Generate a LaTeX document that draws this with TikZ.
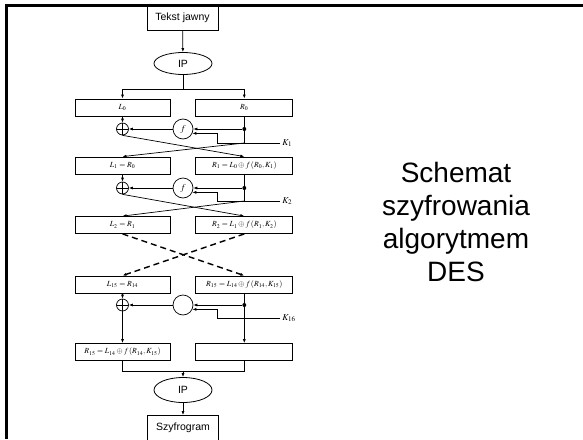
\documentclass[tikz,border=0pt]{standalone}
\usepackage{mathptmx}
\usepackage{fontspec}
\setsansfont{Liberation Sans}
\usepackage{tikz}
\usetikzlibrary{
  arrows.meta,
  positioning,
  calc,
  shapes.geometric}
\tikzset{
  blok/.style={draw, line width=0.8pt, minimum width=95pt, minimum height=17pt, inner sep=1pt, font=\fontsize{7.8}{9}\selectfont},
  blokR/.style={blok, minimum width=97pt},
  ramka/.style={draw, line width=0.8pt, minimum width=71pt, minimum height=25pt, font=\sffamily\fontsize{10.5}{12}\selectfont},
  perm/.style={draw, ellipse, line width=0.8pt, minimum width=58pt, minimum height=22pt, inner sep=0pt, font=\sffamily\fontsize{10.5}{12}\selectfont},
  xorop/.style={draw, circle, line width=0.7pt, minimum size=12pt, inner sep=0pt,
    path picture={\draw[line width=0.7pt] (path picture bounding box.north) -- (path picture bounding box.south)
                  (path picture bounding box.west) -- (path picture bounding box.east);}},
  fun/.style={draw, circle, line width=0.7pt, minimum size=20pt, inner sep=0pt, font=\fontsize{9}{10}\selectfont},
  klucz/.style={anchor=west, inner sep=2pt, font=\fontsize{9}{10}\selectfont},
  wezel/.style={circle, fill, inner sep=0pt, minimum size=4pt},
  zamiana/.style={dashed, line width=1.4pt, dash pattern=on 6pt off 4pt}
}

\begin{document}
\begin{tikzpicture}[x=1pt, y=-1pt, >={Latex[length=4pt,width=3pt]}, line width=0.7pt]
    \useasboundingbox (0,0) rectangle (583,439);

    \node[ramka] at (182.5,18) (jawny){Tekst jawny};
    \node[perm] at (183,63.5) (ip1){IP};

    % pierwsza runda
    \node[blok] at (122.5,107.5) (L0){$L_0$};
    \node[blokR, right = 25pt of L0](R0){$R_0$};
    \node[fun] at (183,129) (f1){$f$};
    \node[xorop] at (L0 |- f1) (x1){};
    \node[wezel] at (R0 |- f1) (d1){};
    \node[klucz] at (280,143) (k1){$K_1$};
    \coordinate (c1) at (R0.south |- k1.west);

    \node[blok] at (122.5,165.5) (L1){$L_1 = R_0$};
    \node[blokR, right = 25pt of L1](R1){$R_1 = L_0 \oplus f\,(R_0, K_1)$};

    % druga runda
    \node[fun] at (183,188) (f2){$f$};
    \node[xorop] at (L1 |- f2) (x2){};
    \node[wezel] at (R1 |- f2) (d2){};
    \node[klucz] at (280,201) (k2){$K_2$};
    \coordinate (c2) at (R1.south |- k2.west);

    \node[blok] at (122.5,225) (L2){$L_2 = R_1$};
    \node[blokR, right = 25pt of L2](R2){$R_2 = L_1 \oplus f\,(R_1, K_2)$};

    % runda szesnasta
    \node[blok] at (122.5,284.5) (L15){$L_{15} = R_{14}$};
    \node[blokR, right = 25pt of L15](R15){$R_{15} = L_{14} \oplus f\,(R_{14}, K_{15})$};
    \node[fun] at (183,305) (f3){};
    \node[xorop] at (L15 |- f3) (x3){};
    \node[wezel] at (R15 |- f3) (d3){};
    \node[klucz] at (280,318) (k16){$K_{16}$};

    \node[blok] at (122.5,352) (LK){$R_{15} = L_{14} \oplus f\,(R_{14}, K_{15})$};
    \node[blokR, right = 25pt of LK](RK){};

    \node[perm, minimum height=25pt] at (183,390) (ip2){IP};
    \node[ramka] at (183,428) (szyfr){Szyfrogram};

    \node[align=center, font=\sffamily\fontsize{28}{33.3}\selectfont] at (456,222) (tytul){Schemat\\szyfrowania\\algorytmem\\DES};

    % wejscie
    \draw[->] (jawny) -- (ip1);
    \coordinate[below = 14pt of ip1.south](i_1);
    \draw (ip1.south) -- (i_1);
    \draw[->] (i_1) -| (L0.north);
    \draw[->] (i_1) -| (R0.north);

    % runda 1
    \draw[->] (L0.south) -- (x1.north);
    \draw (R0.south) -- (c1);
    \draw[->] (d1) -- (f1);
    \draw[->] (f1) -- (x1);
    \draw[->] (k1.west) -| ([xshift=25pt]f1.-25) -- (f1.-25);
    \draw[->] (x1.south) -- (R1.north);
    \draw[->] (c1) -- (L1.north);

    % runda 2
    \draw[->] (L1.south) -- (x2.north);
    \draw (R1.south) -- (c2);
    \draw[->] (d2) -- (f2);
    \draw[->] (f2) -- (x2);
    \draw[->] (k2.west) -| ([xshift=25pt]f2.-25) -- (f2.-25);
    \draw[->] (x2.south) -- (R2.north);
    \draw[->] (c2) -- (L2.north);

    % rundy 3..15
    \draw[->,zamiana] (L2.south) -- (R15.north);
    \draw[->,zamiana] (R2.south) -- (L15.north);

    % runda 16
    \draw[->] (L15.south) -- (x3.north);
    \draw[->] (R15.south) -- (RK.north);
    \draw[->] (d3) -- (f3);
    \draw[->] (f3) -- (x3);
    \draw[->] (k16.west) -| ([xshift=25pt]f3.-25) -- (f3.-25);
    \draw[->] (x3.south) -- (LK.north);

    % wyjscie
    \coordinate[below = 10pt of LK.south](o_1);
    \coordinate[below = 10pt of RK.south](o_2);
    \draw (LK.south) -- (o_1) -- (o_2) -- (RK.south);
    \draw[->] (o_1 -| ip2) -- (ip2);
    \draw[->] (ip2) -- (szyfr);

    % ramka slajdu
    \draw[line width=2.8pt] (6.3,439) -- (6.3,5.5) -- (583,5.5);
\end{tikzpicture}
\end{document}
